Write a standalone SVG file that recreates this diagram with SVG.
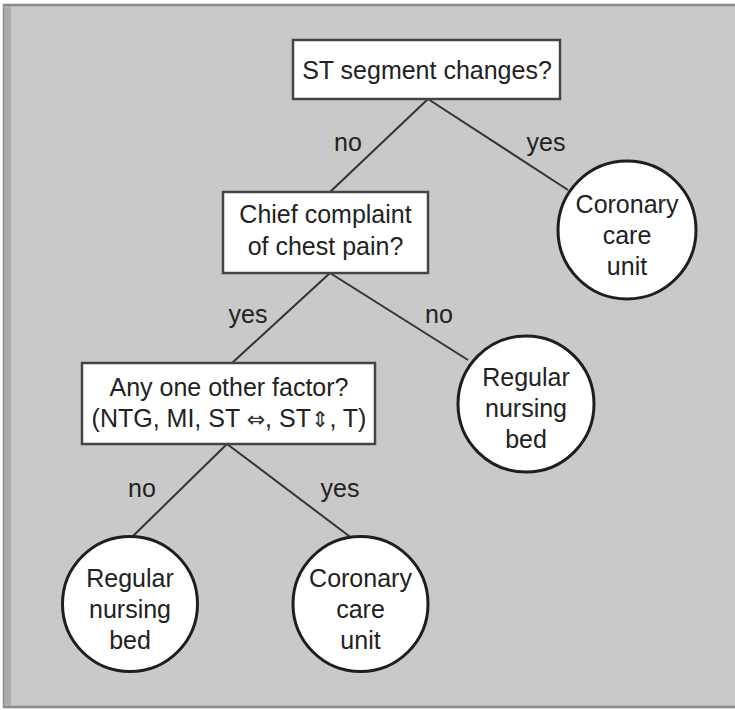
<svg xmlns="http://www.w3.org/2000/svg" width="735" height="710" viewBox="0 0 735 710">
<style>
text{font-family:"Liberation Sans",Arial,"DejaVu Sans",sans-serif;font-size:25px;fill:#222;text-anchor:middle}
.arr{font-family:"DejaVu Sans",sans-serif;font-size:22px;fill:#333}
.box{fill:#fff;stroke:#444;stroke-width:2.5}
.leaf{fill:#fff;stroke:#1e1e1e;stroke-width:3}
.edge{stroke:#333;stroke-width:2;fill:none}
</style>
<rect x="0" y="0" width="735" height="710" fill="#fff"/>
<rect x="4" y="5" width="740" height="702" fill="#c9c9c9" stroke="#8a8a8a" stroke-width="2.5"/>
<rect x="4" y="6" width="7" height="700" fill="#ababab"/>
<g id="connectors">
<line class="edge" x1="428" y1="99" x2="330" y2="192"/>
<line class="edge" x1="428" y1="99" x2="568" y2="190"/>
<line class="edge" x1="330" y1="273" x2="232" y2="363"/>
<line class="edge" x1="330" y1="273" x2="468" y2="360"/>
<line class="edge" x1="227" y1="444" x2="132" y2="537"/>
<line class="edge" x1="227" y1="444" x2="353" y2="539"/>
<text x="348" y="151">no</text>
<text x="546" y="151">yes</text>
<text x="248" y="323">yes</text>
<text x="439" y="323">no</text>
<text x="142" y="497">no</text>
<text x="340" y="497">yes</text>
</g>
<g id="n-st">
<rect class="box" x="293" y="40" width="267" height="59"/>
<text x="427" y="79">ST segment changes?</text>
</g>
<g id="n-chief">
<rect class="box" x="223" y="192" width="205" height="81"/>
<text x="325.5" y="223">Chief complaint</text>
<text x="325.5" y="255">of chest pain?</text>
</g>
<g id="n-any">
<rect class="box" x="82" y="363" width="293" height="81"/>
<text x="229" y="396">Any one other factor?</text>
<text x="229" y="427">(NTG, MI, ST <tspan class="arr">⇔</tspan>, ST<tspan class="arr">⇕</tspan>, T)</text>
</g>
<g id="n-ccu1">
<circle class="leaf" cx="627" cy="230" r="69"/>
<text x="627" y="213">Coronary</text>
<text x="627" y="244">care</text>
<text x="627" y="275">unit</text>
</g>
<g id="n-rnb1">
<circle class="leaf" cx="526" cy="404" r="68"/>
<text x="526" y="386">Regular</text>
<text x="526" y="417">nursing</text>
<text x="526" y="448">bed</text>
</g>
<g id="n-rnb2">
<circle class="leaf" cx="130" cy="604" r="67.5"/>
<text x="130" y="587">Regular</text>
<text x="130" y="618">nursing</text>
<text x="130" y="649">bed</text>
</g>
<g id="n-ccu2">
<circle class="leaf" cx="360.5" cy="604" r="67.5"/>
<text x="360.5" y="587">Coronary</text>
<text x="360.5" y="618">care</text>
<text x="360.5" y="649">unit</text>
</g>
</svg>
